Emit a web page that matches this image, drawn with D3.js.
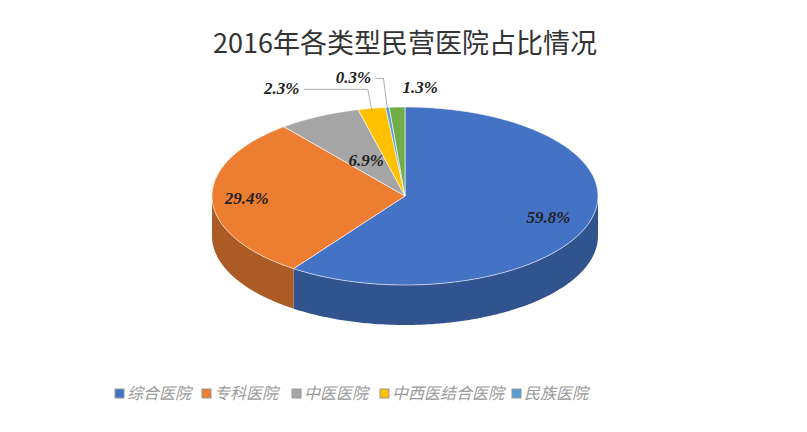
<!DOCTYPE html>
<html><head><meta charset="utf-8">
<script src="https://cdn.jsdelivr.net/npm/d3@7"></script>
<style>body{margin:0;background:#fff}</style></head>
<body><svg id="chart" width="807" height="432"></svg>
<script>
// Data
const categories = ['综合医院', '专科医院', '中医医院', '中西医结合医院', '民族医院', '其他'];
const values = [59.8, 29.4, 6.9, 2.3, 0.3, 1.3];
const legendItems = ['综合医院', '专科医院', '中医医院', '中西医结合医院', '民族医院'];
const colors = ['#4472C4', '#ED7D31', '#A5A5A5', '#FFC000', '#5B9BD5', '#70AD47'];

const svg = d3.select('#chart');
const cx = 405, cy = 196, rx = 193, ry = 89, depth = 40;

svg.append('text').attr('x', 405).attr('y', 53).attr('text-anchor', 'middle')
  .style('font-family', 'Noto Sans CJK SC').style('font-size', '27px').style('fill', '#333')
  .text('2016年各类型民营医院占比情况');

// angles clockwise from top
const total = d3.sum(values);
const angle = d3.scaleLinear().domain([0, total]).range([0, 2 * Math.PI]);
let acc = 0;
const slices = values.map((v, i) => {
  const s = { i, v, a0: angle(acc), a1: angle(acc + v) };
  acc += v; return s;
});
const px = a => cx + rx * Math.sin(a);
const py = a => cy - ry * Math.cos(a);

function arcPts(a0, a1, dy) {
  const n = Math.max(2, Math.ceil((a1 - a0) / 0.02));
  return d3.range(n + 1).map(k => { const a = a0 + (a1 - a0) * k / n; return [px(a), py(a) + dy]; });
}

// side walls (front half only)
slices.forEach(s => {
  const a0 = Math.max(s.a0, Math.PI / 2), a1 = Math.min(s.a1, 3 * Math.PI / 2);
  if (a1 <= a0) return;
  const pts = arcPts(a0, a1, 0).concat(arcPts(a0, a1, depth).reverse());
  svg.append('path').attr('d', d3.line()(pts) + 'Z')
    .attr('fill', d3.color(colors[s.i]).darker(0.9));
});
// tops
slices.forEach(s => {
  const pts = [[cx, cy]].concat(arcPts(s.a0, s.a1, 0));
  svg.append('path').attr('d', d3.line()(pts) + 'Z')
    .attr('fill', colors[s.i]).attr('stroke', '#fff').attr('stroke-width', 0.6);
});

// labels
const inside = [0.78, 0.82, 0.45];
const outsidePos = [null, null, null, [-108, -14], [-52, -24], [5, -14]];
slices.forEach(s => {
  const m = (s.a0 + s.a1) / 2;
  let x, y;
  const g = svg.append('g');
  if (s.i < 3) {
    x = cx + rx * inside[s.i] * Math.sin(m); y = cy - ry * inside[s.i] * Math.cos(m) + 6;
  } else {
    const ex = px(m), ey = py(m);
    x = ex + outsidePos[s.i][0] + 18; y = ey + outsidePos[s.i][1];
    if (s.i !== 5) {
      g.append('polyline').attr('points', [[x + 22, y - 5], [ex - 4, y - 5], [ex, ey + 2]].join(' '))
        .attr('fill', 'none').attr('stroke', '#999').attr('stroke-width', 0.8);
    }
  }
  g.append('text').attr('x', x).attr('y', y).attr('text-anchor', 'middle')
    .style('font-family', 'Liberation Serif').style('font-weight', 'bold').style('font-style', 'italic')
    .style('font-size', '17px').style('fill', '#222').text(s.v.toFixed(1) + '%');
});

// legend
const legendX = [115, 202, 292, 380, 512];
legendItems.forEach((t, i) => {
  const g = svg.append('g').attr('transform', `translate(${legendX[i]},399)`);
  g.append('rect').attr('x', 0).attr('y', -10).attr('width', 9).attr('height', 9)
    .attr('fill', colors[i]).attr('stroke', '#999').attr('stroke-width', 1);
  g.append('text').attr('x', 12).attr('y', 0)
    .style('font-family', 'Noto Sans CJK SC').style('font-style', 'italic').style('font-size', '16px')
    .style('fill', '#999').text(t);
});
</script></body></html>
